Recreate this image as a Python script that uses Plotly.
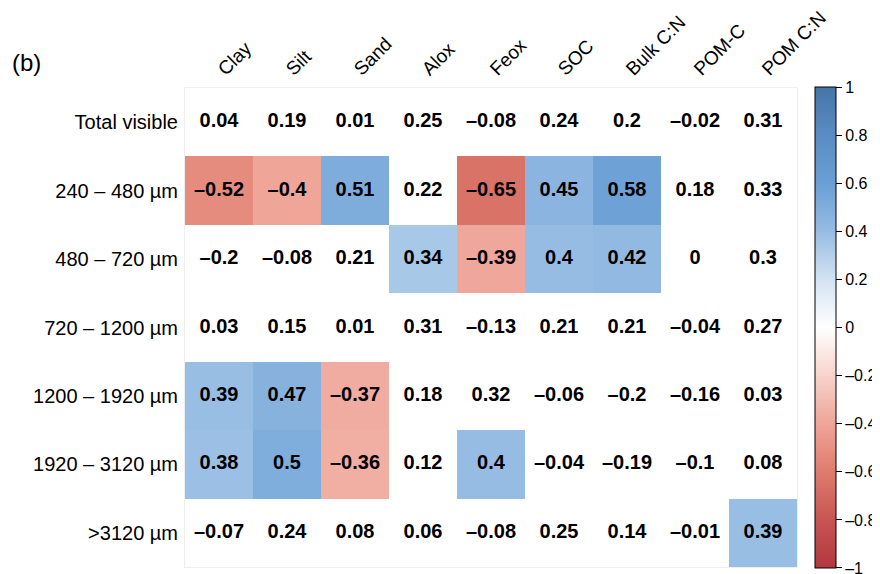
import plotly.graph_objects as go

columns = ["Clay", "Silt", "Sand", "Alox", "Feox", "SOC", "Bulk C:N", "POM-C", "POM C:N"]
rows = ["Total visible", "240 – 480 µm", "480 – 720 µm", "720 – 1200 µm",
        "1200 – 1920 µm", "1920 – 3120 µm", ">3120 µm"]

r_total = [0.04, 0.19, 0.01, 0.25, -0.08, 0.24, 0.2, -0.02, 0.31]
r_240 = [-0.52, -0.4, 0.51, 0.22, -0.65, 0.45, 0.58, 0.18, 0.33]
r_480 = [-0.2, -0.08, 0.21, 0.34, -0.39, 0.4, 0.42, 0, 0.3]
r_720 = [0.03, 0.15, 0.01, 0.31, -0.13, 0.21, 0.21, -0.04, 0.27]
r_1200 = [0.39, 0.47, -0.37, 0.18, 0.32, -0.06, -0.2, -0.16, 0.03]
r_1920 = [0.38, 0.5, -0.36, 0.12, 0.4, -0.04, -0.19, -0.1, 0.08]
r_3120 = [-0.07, 0.24, 0.08, 0.06, -0.08, 0.25, 0.14, -0.01, 0.39]

# 1 = significant (cell coloured), 0 = not significant (white)
sig_total = [0, 0, 0, 0, 0, 0, 0, 0, 0]
sig_240 = [1, 1, 1, 0, 1, 1, 1, 0, 0]
sig_480 = [0, 0, 0, 1, 1, 1, 1, 0, 0]
sig_720 = [0, 0, 0, 0, 0, 0, 0, 0, 0]
sig_1200 = [1, 1, 1, 0, 0, 0, 0, 0, 0]
sig_1920 = [1, 1, 1, 0, 1, 0, 0, 0, 0]
sig_3120 = [0, 0, 0, 0, 0, 0, 0, 0, 1]

colorbar_ticks = [-1, -0.8, -0.6, -0.4, -0.2, 0, 0.2, 0.4, 0.6, 0.8, 1]

values = [r_total, r_240, r_480, r_720, r_1200, r_1920, r_3120]
sigs = [sig_total, sig_240, sig_480, sig_720, sig_1200, sig_1920, sig_3120]


def fmt(v):
    s = f"{abs(v):.2f}".rstrip("0").rstrip(".")
    if s == "":
        s = "0"
    return ("–" if v < 0 else "") + s


z = [[v if s else None for v, s in zip(vr, sr)] for vr, sr in zip(values, sigs)]

colorscale = [
    [0.0, "#B2373F"],
    [0.1, "#C85552"],
    [0.2, "#DF7B6E"],
    [0.3, "#EFA598"],
    [0.4, "#F7D3CB"],
    [0.5, "#FFFFFF"],
    [0.6, "#D3E3F3"],
    [0.7, "#96BCE3"],
    [0.8, "#6A9FD5"],
    [0.9, "#5A8CC3"],
    [1.0, "#4674A6"],
]

FONT = "Liberation Sans, Arial, Helvetica, sans-serif"

# The page body has an 8px default margin, so the figure is sized to fill the rest.
W, H = 872, 566
ML, MT = 177, 80
PW, PH = 612, 479

# keep the end ticks just inside the colour range so they are drawn
cb_tickvals = [max(min(t, 0.9999), -0.9999) for t in colorbar_ticks]

fig = go.Figure()
fig.add_trace(go.Heatmap(
    x=columns, y=rows, z=z, zmin=-1, zmax=1,
    colorscale=colorscale, hoverongaps=False,
    colorbar=dict(
        thickness=21, thicknessmode="pixels",
        len=481, lenmode="pixels",
        x=1.0 + 18 / PW, xanchor="left", xref="paper",
        y=0.5, yanchor="middle", yref="paper",
        xpad=0, ypad=0,
        outlinewidth=1, outlinecolor="black",
        tickvals=cb_tickvals,
        ticktext=[fmt(t) for t in colorbar_ticks],
        ticks="outside", ticklen=6, tickcolor="black", tickwidth=1,
        ticklabeloverflow="allow",
        tickfont=dict(family=FONT, size=16, color="black"),
    ),
))

tx, ty, tt = [], [], []
for rname, vr in zip(rows, values):
    for cname, v in zip(columns, vr):
        tx.append(cname)
        ty.append(rname)
        tt.append("<b>" + fmt(v) + "</b>")

fig.add_trace(go.Scatter(
    x=tx, y=ty, text=tt, mode="text",
    textfont=dict(family=FONT, size=20, color="black"),
    hoverinfo="skip", showlegend=False,
))

fig.add_annotation(
    text="(b)", xref="paper", yref="paper",
    x=-175 / PW, y=1 + 26 / PH,
    xanchor="left", yanchor="middle", showarrow=False,
    font=dict(family=FONT, size=24, color="black"),
)

fig.update_layout(
    width=W, height=H,
    margin=dict(l=ML, r=W - ML - PW, t=MT, b=H - MT - PH, autoexpand=False),
    paper_bgcolor="white", plot_bgcolor="white",
    showlegend=False,
    xaxis=dict(
        side="top", tickangle=-45, type="category",
        showgrid=False, zeroline=False, automargin=False,
        showline=True, linecolor="#EEEEEE", mirror=True,
        ticks="", ticklabelstandoff=0,
        tickfont=dict(family=FONT, size=19, color="black"),
        range=[-0.5, 8.5],
    ),
    yaxis=dict(
        type="category", autorange="reversed",
        showgrid=False, zeroline=False, automargin=False,
        showline=True, linecolor="#EEEEEE", mirror=True,
        ticks="", ticklabelstandoff=2,
        tickfont=dict(family=FONT, size=20, color="black"),
    ),
)

fig.write_html("out.html")
